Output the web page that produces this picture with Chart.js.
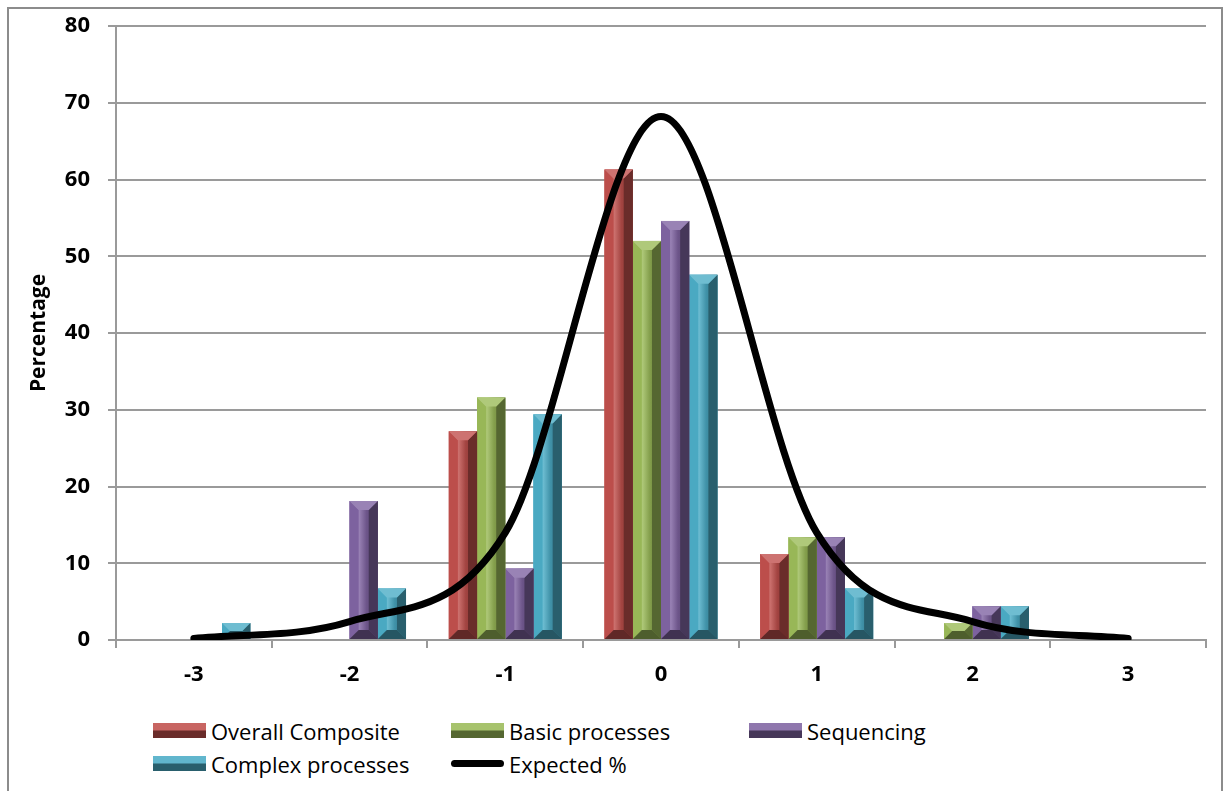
<!DOCTYPE html>
<html>
<head>
<meta charset="utf-8">
<script src="https://cdn.jsdelivr.net/npm/chart.js@4.4.0/dist/chart.umd.min.js"></script>
<style>
  html, body { margin: 0; padding: 0; background: #fff; }
  body { width: 1224px; height: 791px; position: relative; overflow: hidden; font-family: "Open Sans", sans-serif; }
  #frame { position: absolute; left: 7px; top: 7px; width: 1216px; height: 830px; border: 2px solid #8c8c8c; box-sizing: border-box; pointer-events: none; }
  #chart { position: absolute; left: 0; top: 0; }
  #legend { position: absolute; left: 153px; top: 714px; display: grid; grid-template-columns: 298px 298px 298px; grid-auto-rows: 33px; }
  .item { display: flex; align-items: center; font-size: 22px; color: #000; white-space: nowrap; }
  .swatch { width: 53px; height: 15px; margin-right: 5px; flex: none; }
  .lineSwatch { width: 53px; height: 7px; margin-right: 5px; border-radius: 4px; background: #000; flex: none; }
</style>
</head>
<body>
<canvas id="chart" width="1224" height="700"></canvas>
<div id="legend"></div>
<div id="frame"></div>
<script>
// data
const categories = ['-3', '-2', '-1', '0', '1', '2', '3'];
const overallComposite = [0, 0, 27.2, 61.3, 11.2, 0, 0];
const basicProcesses = [0, 0, 31.6, 52.0, 13.4, 2.2, 0];
const sequencing = [0, 18.1, 9.3, 54.6, 13.4, 4.4, 0];
const complexProcesses = [2.2, 6.7, 29.4, 47.6, 6.7, 4.4, 0];
const expectedPct = [0.2, 2.4, 14.0, 68.2, 14.0, 2.4, 0.2];
const seriesNames = ['Overall Composite', 'Basic processes', 'Sequencing', 'Complex processes', 'Expected %'];

const baseColors = ['#C0504D', '#9BBB59', '#8064A2', '#4BACC6'];

// lighten (f > 0) or darken (f < 0) a hex colour
function shade(hex, f) {
  const n = parseInt(hex.slice(1), 16);
  let r = n >> 16, g = (n >> 8) & 255, b = n & 255;
  const mix = v => Math.round(f >= 0 ? v + (255 - v) * f : v * (1 + f));
  return `rgb(${mix(r)}, ${mix(g)}, ${mix(b)})`;
}

// bevelled look of the 2007 style bars, painted over each bar element
const bevelPlugin = {
  id: 'bevel',
  afterDatasetDraw(chart, args) {
    const meta = args.meta;
    if (meta.type !== 'bar') return;
    const base = baseColors[args.index];
    const ctx = chart.ctx;
    ctx.save();
    meta.data.forEach(bar => {
      const p = bar.getProps(['x', 'y', 'base', 'width'], true);
      const h = p.base - p.y;
      if (h < 1) return;
      const l = p.x - p.width / 2, r = p.x + p.width / 2, t = p.y, b = p.base;
      const d = Math.min(p.width * 0.32, h / 2);

      const g = ctx.createLinearGradient(l, 0, r, 0);
      g.addColorStop(0, shade(base, 0.05));
      g.addColorStop(0.35, shade(base, 0.18));
      g.addColorStop(0.6, shade(base, -0.15));
      g.addColorStop(1, shade(base, -0.35));
      ctx.fillStyle = g;
      ctx.fillRect(l, t, r - l, h);

      const poly = (pts, col) => {
        ctx.beginPath();
        ctx.moveTo(pts[0][0], pts[0][1]);
        pts.slice(1).forEach(q => ctx.lineTo(q[0], q[1]));
        ctx.closePath();
        ctx.fillStyle = col;
        ctx.fill();
      };
      poly([[l, t], [l + d, t + d], [l + d, b - d], [l, b]], shade(base, -0.02));
      poly([[r, t], [r - d, t + d], [r - d, b - d], [r, b]], shade(base, -0.45));
      poly([[l, t], [r, t], [r - d, t + d], [l + d, t + d]], shade(base, 0.2));
      poly([[l, b], [r, b], [r - d, b - d], [l + d, b - d]], shade(base, -0.5));
    });
    ctx.restore();
  }
};

const barSeries = [overallComposite, basicProcesses, sequencing, complexProcesses];
const datasets = barSeries.map((vals, i) => ({
  type: 'bar',
  label: seriesNames[i],
  data: vals,
  backgroundColor: baseColors[i],
  borderWidth: 0,
  barPercentage: 1,
  categoryPercentage: 0.725,
  order: 1
}));
datasets.push({
  type: 'line',
  label: seriesNames[4],
  data: expectedPct,
  borderColor: '#000',
  borderWidth: 7,
  borderCapStyle: 'round',
  borderJoinStyle: 'round',
  cubicInterpolationMode: 'monotone',
  pointRadius: 0,
  fill: false,
  order: 0
});

const tickFont = { family: 'Open Sans', size: 22, weight: 'bold' };
const gridColor = '#9a9a9a';

new Chart(document.getElementById('chart'), {
  data: { labels: categories, datasets: datasets },
  options: {
    responsive: false,
    animation: false,
    devicePixelRatio: 1,
    layout: { padding: { left: 0, top: 26, right: 18, bottom: 0 } },
    plugins: { legend: { display: false }, tooltip: { enabled: false } },
    scales: {
      x: {
        offset: true,
        grid: { offset: true, drawOnChartArea: false, drawTicks: true, tickLength: 8, color: gridColor, lineWidth: 2 },
        border: { color: gridColor, width: 2 },
        ticks: { color: '#000', font: tickFont, padding: 14 },
        afterFit: s => { s.height = 60; }
      },
      y: {
        min: 0,
        max: 80,
        ticks: { stepSize: 10, color: '#000', font: tickFont, padding: 18 },
        grid: { color: gridColor, lineWidth: 2, tickLength: 8 },
        border: { color: gridColor, width: 2 },
        title: { display: true, text: 'Percentage', color: '#000', font: { family: 'Open Sans', size: 21, weight: 'bold' }, padding: { top: 26, bottom: 0 } },
        afterFit: s => { s.width = 116; s.paddingTop = 10; }
      }
    }
  },
  plugins: [bevelPlugin]
});

// legend laid out in columns like the original
const legend = document.getElementById('legend');
seriesNames.forEach((name, i) => {
  const item = document.createElement('div');
  item.className = 'item';
  const sw = document.createElement('span');
  if (i < 4) {
    sw.className = 'swatch';
    sw.style.background = `linear-gradient(to bottom, ${shade(baseColors[i], 0.12)} 0%, ${shade(baseColors[i], 0.12)} 45%, ${shade(baseColors[i], -0.45)} 55%, ${shade(baseColors[i], -0.45)} 100%)`;
  } else {
    sw.className = 'lineSwatch';
  }
  const txt = document.createElement('span');
  txt.textContent = name;
  item.appendChild(sw);
  item.appendChild(txt);
  legend.appendChild(item);
});
</script>
</body>
</html>
